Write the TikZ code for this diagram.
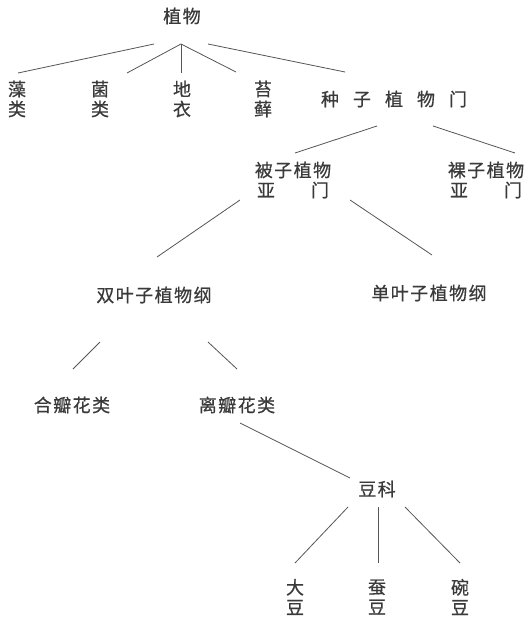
\documentclass[tikz,border=0pt]{standalone}
\usepackage{fontspec}
\newfontfamily\cjk[LetterSpace=8,FakeBold=0.6]{Noto Sans CJK SC}
\definecolor{inkt}{HTML}{3A3A3A}
\definecolor{inkl}{HTML}{555555}
\tikzset{
  lbl/.style={inner sep=0pt, text=inkt, font=\cjk\fontsize{18}{20}\selectfont, align=center},
  lnk/.style={draw=inkl, line width=0.8pt}
}
\begin{document}
\begin{tikzpicture}[x=1pt,y=-1pt]
\useasboundingbox (0,0) rectangle (529,621);
% nodes
\node[lbl] (zw) at (182,16) {植物};
\node[lbl] (zl) at (17,99) {藻\\类};
\node[lbl] (jl) at (100,99) {菌\\类};
\node[lbl] (dy) at (182,99) {地\\衣};
\node[lbl] (tx) at (263,99) {苔\\藓};
\node[lbl] (zz) at (394,99) {种\hspace{14pt}子\hspace{14pt}植\hspace{14pt}物\hspace{14pt}门};
\node[lbl] (bz) at (293,180) {被子植物\\\makebox[72pt][s]{亚\hfill 门}};
\node[lbl] (lz) at (486,180) {裸子植物\\\makebox[72pt][s]{亚\hfill 门}};
\node[lbl] (sy) at (154,295) {双叶子植物纲};
\node[lbl] (dyz) at (429,293) {单叶子植物纲};
\node[lbl] (hb) at (72,405) {合瓣花类};
\node[lbl] (lb) at (237,405) {离瓣花类};
\node[lbl] (dk) at (377,489) {豆科};
\node[lbl] (dd) at (295,597) {大\\豆};
\node[lbl] (cd) at (377,597) {蚕\\豆};
\node[lbl] (wd) at (460,597) {碗\\豆};
% connector ends
\coordinate (p1a) at (154,44); \coordinate (p1b) at (18,73);
\coordinate (p2a) at (181,44); \coordinate (p2b) at (127,73);
\coordinate (p3b) at (181,73);
\coordinate (p4b) at (236,72);
\coordinate (p5a) at (208,44); \coordinate (p5b) at (345,72);
\coordinate (q1a) at (377,126); \coordinate (q1b) at (295,153);
\coordinate (q2a) at (433,126); \coordinate (q2b) at (515,153);
\coordinate (r1a) at (240,200); \coordinate (r1b) at (157,257);
\coordinate (r2a) at (350,200); \coordinate (r2b) at (432,255);
\coordinate (s1a) at (100,342); \coordinate (s1b) at (73,369);
\coordinate (s2a) at (208,342); \coordinate (s2b) at (237,369);
\coordinate (t1a) at (240,423); \coordinate (t1b) at (350,478);
\coordinate (u1a) at (348,507); \coordinate (u1b) at (295,563);
\coordinate (u2a) at (378,507); \coordinate (u2b) at (378,563);
\coordinate (u3a) at (405,507); \coordinate (u3b) at (460,563);
% connectors
\draw[lnk] (p1a) -- (p1b);
\draw[lnk] (p2a) -- (p2b);
\draw[lnk] (p2a) -- (p3b);
\draw[lnk] (p2a) -- (p4b);
\draw[lnk] (p5a) -- (p5b);
\draw[lnk] (q1a) -- (q1b);
\draw[lnk] (q2a) -- (q2b);
\draw[lnk] (r1a) -- (r1b);
\draw[lnk] (r2a) -- (r2b);
\draw[lnk] (s1a) -- (s1b);
\draw[lnk] (s2a) -- (s2b);
\draw[lnk] (t1a) -- (t1b);
\draw[lnk] (u1a) -- (u1b);
\draw[lnk] (u2a) -- (u2b);
\draw[lnk] (u3a) -- (u3b);
\end{tikzpicture}
\end{document}
